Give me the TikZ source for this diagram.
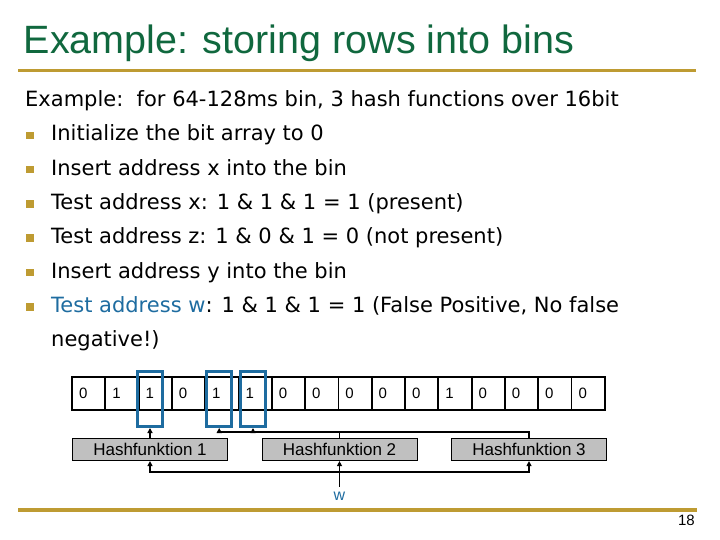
\documentclass[tikz,border=0pt]{standalone}
\usepackage{fontspec}
\setmainfont{Liberation Sans}
\newfontfamily\bodyfont{DejaVu Sans}
\usetikzlibrary{arrows.meta}
\definecolor{titlegreen}{RGB}{16,104,62}
\definecolor{rulegold}{RGB}{190,155,50}
\definecolor{hitblue}{RGB}{30,108,160}
\definecolor{hashgray}{RGB}{192,192,192}

\begin{document}
\begin{tikzpicture}[
  title_text/.style={anchor=base west, inner sep=0pt, font=\fontsize{39.5}{40}\selectfont, text=titlegreen},
  body_text/.style={anchor=base west, inner sep=0pt, font=\bodyfont\fontsize{21}{22}\selectfont},
  bullet_mark/.style={rectangle, minimum size=7.5pt, inner sep=0pt, fill=rulegold},
  gold_rule/.style={draw=rulegold, line width=3.5pt},
  bit_cell/.style={rectangle, draw, line width=1.8pt, minimum height=33pt, text width=19.3pt, inner xsep=7pt, inner ysep=0pt, align=left, font=\fontsize{15}{15}\selectfont},
  hit_box/.style={rectangle, draw=hitblue, line width=2.6pt, minimum width=25pt, minimum height=55pt, inner sep=0pt},
  hash_box/.style={rectangle, draw, line width=0.8pt, fill=hashgray, minimum width=155pt, minimum height=22.4pt, inner sep=0pt, font=\fontsize{17}{17}\selectfont},
  wire/.style={line width=1.8pt},
  arrow_wire/.style={wire, -{Triangle[length=5pt,width=5pt]}},
]
\useasboundingbox (0pt,0pt) rectangle (720pt,-540pt);

% title and rules
\draw (23.5pt,-53.3pt) node (title) [title_text] {Example: storing rows into bins};
\draw[gold_rule] (18pt,-70.3pt) -- (696pt,-70.3pt);
\draw[gold_rule] (18pt,-510pt) -- (697pt,-510pt);
\draw (695pt,-525pt) node (page) [anchor=base east, inner sep=0pt, font=\fontsize{15}{15}\selectfont] {18};

% text
\draw (25pt,-106.5pt) node (l0) [body_text] {Example:\ \ for 64-128ms bin, 3 hash functions over 16bit};
\draw (30.2pt,-135.3pt) node (m1) [bullet_mark] {};
\draw (51pt,-140.8pt) node (l1) [body_text] {Initialize the bit array to 0};
\draw (30.2pt,-169.6pt) node (m2) [bullet_mark] {};
\draw (51pt,-175.1pt) node (l2) [body_text] {Insert address x into the bin};
\draw (30.2pt,-203.9pt) node (m3) [bullet_mark] {};
\draw (51pt,-209.4pt) node (l3) [body_text] {Test address x: 1 \& 1 \& 1 = 1 (present)};
\draw (30.2pt,-238.2pt) node (m4) [bullet_mark] {};
\draw (51pt,-243.7pt) node (l4) [body_text] {Test address z: 1 \& 0 \& 1 = 0 (not present)};
\draw (30.2pt,-272.5pt) node (m5) [bullet_mark] {};
\draw (51pt,-278pt) node (l5) [body_text] {Insert address y into the bin};
\draw (30.2pt,-306.8pt) node (m6) [bullet_mark] {};
\draw (51pt,-312.3pt) node (l6) [body_text] {\textcolor{hitblue}{Test address w}: 1 \& 1 \& 1 = 1 (False Positive, No false};
\draw (51pt,-346.6pt) node (l7) [body_text] {negative!)};

% bit array
\draw (88.65pt,-393.5pt) node (c0) [bit_cell] {0};
\draw (121.95pt,-393.5pt) node (c1) [bit_cell] {1};
\draw (155.25pt,-393.5pt) node (c2) [bit_cell] {1};
\draw (188.55pt,-393.5pt) node (c3) [bit_cell] {0};
\draw (221.85pt,-393.5pt) node (c4) [bit_cell] {1};
\draw (255.15pt,-393.5pt) node (c5) [bit_cell] {1};
\draw (288.45pt,-393.5pt) node (c6) [bit_cell] {0};
\draw (321.75pt,-393.5pt) node (c7) [bit_cell] {0};
\draw (355.05pt,-393.5pt) node (c8) [bit_cell] {0};
\draw (388.35pt,-393.5pt) node (c9) [bit_cell] {0};
\draw (421.65pt,-393.5pt) node (c10) [bit_cell] {0};
\draw (454.95pt,-393.5pt) node (c11) [bit_cell] {1};
\draw (488.25pt,-393.5pt) node (c12) [bit_cell] {0};
\draw (521.55pt,-393.5pt) node (c13) [bit_cell] {0};
\draw (554.85pt,-393.5pt) node (c14) [bit_cell] {0};
\draw (588.15pt,-393.5pt) node (c15) [bit_cell] {0};

% bits hit by w
\draw (150pt,-399.2pt) node (hit1) [hit_box] {};
\draw (219.2pt,-399.2pt) node (hit2) [hit_box] {};
\draw (253pt,-399.2pt) node (hit3) [hit_box] {};

% hash functions
\draw (150pt,-449.5pt) node (h1) [hash_box] {Hashfunktion 1};
\draw (339.5pt,-449.5pt) node (h2) [hash_box] {Hashfunktion 2};
\draw (529pt,-449.5pt) node (h3) [hash_box] {Hashfunktion 3};
\draw (339.5pt,-500.5pt) node (w) [anchor=base, inner sep=5pt, text=hitblue, font=\fontsize{16}{16}\selectfont] {w};

\coordinate (top_bus_left) at (219.2pt,-431.7pt);
\coordinate (top_bus_right) at (529pt,-431.7pt);
\coordinate (low_bus) at (339.5pt,-471.7pt);

\draw[arrow_wire] (h1.north) -- (hit1.south);
\draw[wire] (h3.north) -- (top_bus_right) -- (top_bus_left);
\draw[wire] (h2.north) -- (h2.north |- top_bus_left);
\draw[arrow_wire] (top_bus_left) -- (hit2.south);
\draw[arrow_wire] (hit3.south |- top_bus_left) -- (hit3.south);
\draw[arrow_wire] (w.north) -- (h2.south);
\draw[arrow_wire] (low_bus) -| (h1.south);
\draw[arrow_wire] (low_bus) -| (h3.south);
\end{tikzpicture}
\end{document}
